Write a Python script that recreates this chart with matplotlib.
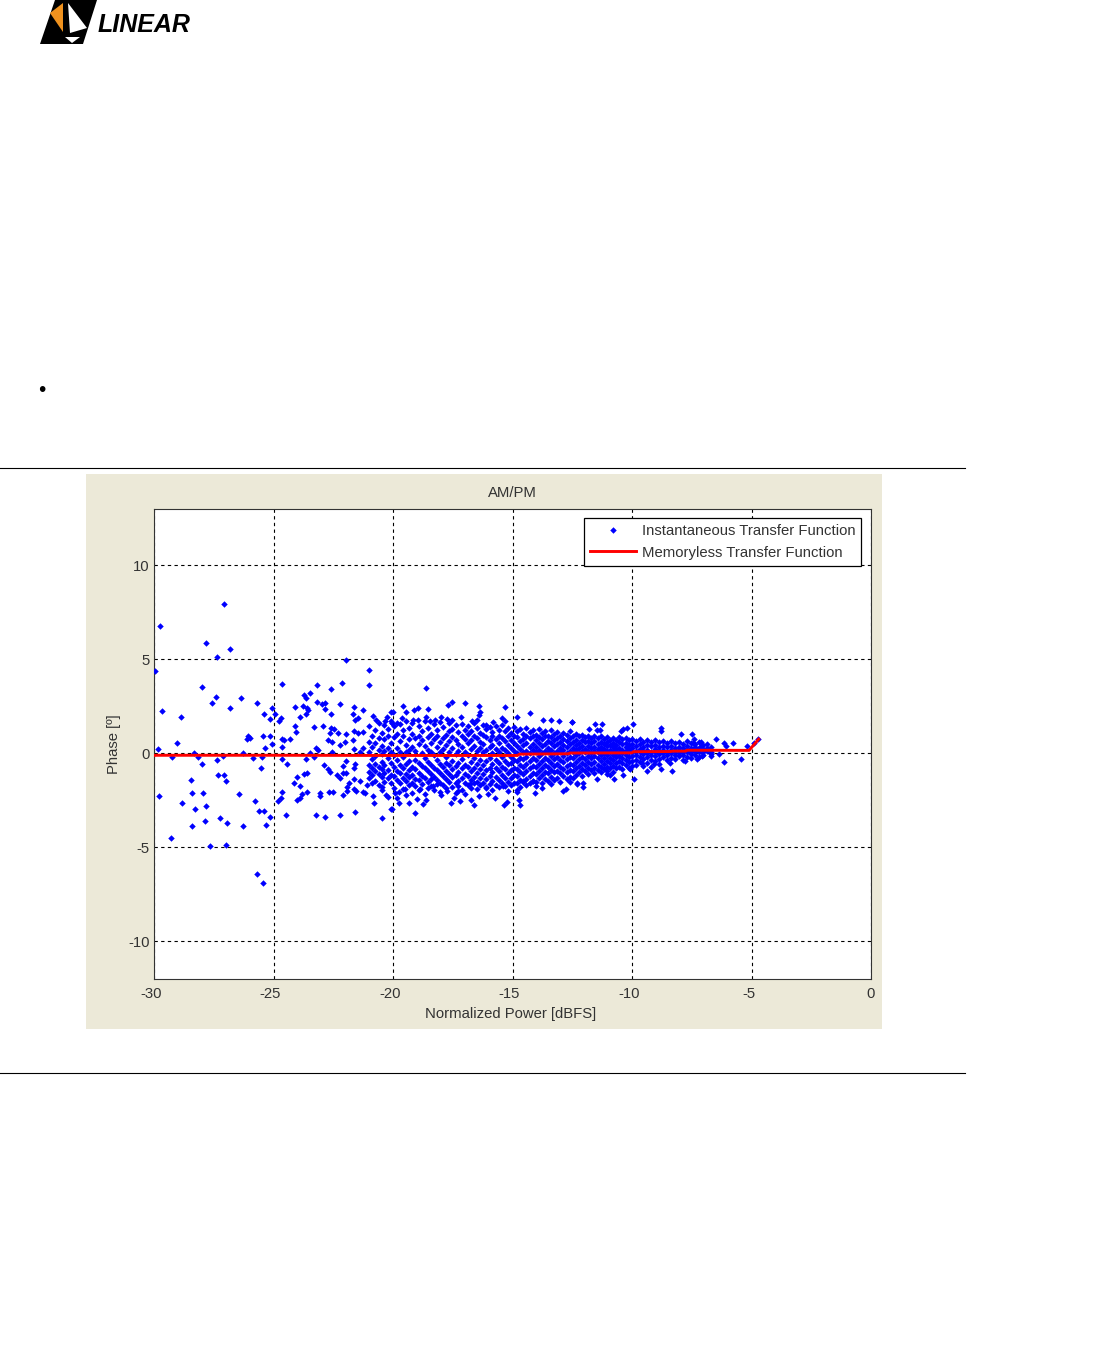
import matplotlib
matplotlib.use('Agg')
import matplotlib.pyplot as plt
from matplotlib.patches import Polygon, Rectangle
from matplotlib.transforms import ScaledTranslation

# Sparse points, low power end
power_low = [-27.09, -29.73, -27.81, -26.83, -27.36, -29.94, -28.0, -27.42, -27.57, -26.81, -26.36, -25.69,
             -29.68, -28.87, -29.05, -29.83, -28.33, -29.26, -28.15, -28.0, -27.36, -27.13, -28.44, -27.32,
             -27.09, -26.99, -28.4, -27.96, -29.79, -28.83, -27.81, -28.3, -27.22, -27.85, -26.93, -28.4,
             -26.26, -29.3, -27.67, -26.99, -25.69, -25.45, -26.46, -25.77, -25.59, -25.4, -25.15, -25.3,
             -25.54, -25.87, -25.5, -26.26, -26.12, -26.07, -25.97, -25.44, -25.15, -25.06, -25.36, -25.4,
             -25.06, -24.92, -25.15, -24.77, -24.67, -24.63, -24.63, -24.63, -24.57, -24.3, -24.63, -24.44,
             -24.63, -24.67, -24.82, -24.49, -24.1, -24.1, -24.04, -23.9, -23.75, -23.71, -23.65, -23.47,
             -23.18, -23.61, -23.56, -23.65, -23.32, -24.0, -24.14, -23.9, -23.8, -23.9, -24.0, -23.61,
             -23.61, -23.71, -23.65, -23.32, -23.47, -23.22, -23.13, -23.22, -22.85, -22.22, -21.59, -20.47,
             -23.18, -22.98, -22.85, -22.85, -22.6, -22.6, -22.12, -22.22, -21.98, -21.02, -21.02, -21.65,
             -21.69, -21.26, -21.45, -21.59, -22.94, -22.6, -22.46, -22.32, -22.65, -21.98, -21.65, -21.45,
             -21.26, -22.73, -22.55, -22.22, -22.02, -21.69, -22.55, -21.65, -21.4, -21.25, -22.89, -22.71,
             -22.65, -21.98, -22.08, -21.59, -21.65, -22.36, -22.22, -22.08, -21.98, -21.65, -21.4, -21.83,
             -21.91, -22.69, -22.5, -23.04, -23.04, -22.08, -21.91, -21.65, -21.55, -21.25, -21.16, -21.1,
             -20.82, -20.78, -20.1, -20.29, -20.47]
phase_low = [7.94, 6.77, 5.86, 5.54, 5.11, 4.39, 3.53, 2.98, 2.66, 2.43, 2.93, 2.68,
             2.24, 1.94, 0.53, 0.21, 0.03, -0.2, -0.2, -0.56, -0.37, -0.14, -1.43, -1.16,
             -1.16, -1.48, -2.08, -2.08, -2.28, -2.65, -2.82, -2.95, -3.44, -3.62, -3.69, -3.86,
             -3.86, -4.48, -4.9, -4.85, -6.44, -6.91, -2.15, -2.52, -3.07, -3.07, -3.39, -3.81,
             -0.76, -0.26, -0.2, 0.03, 0.78, 0.95, 0.83, 0.95, 0.9, 0.48, 0.28, 2.12,
             2.43, 2.12, 1.82, 1.75, 1.87, 3.7, 0.35, 0.78, 0.7, 0.78, -0.32, -0.56,
             -2.03, -2.35, -2.52, -3.26, 2.49, 1.45, 1.15, 1.94, 2.54, 3.09, 2.94, 3.21,
             3.65, 2.42, 2.29, 2.12, 1.39, -1.23, -1.6, -1.73, -2.15, -2.35, -2.47, -2.03,
             -1.02, -1.11, -0.32, -0.2, 0.03, 0.28, 0.18, -3.26, -3.39, -3.26, -3.14, -3.44,
             2.73, 2.64, 2.68, 2.36, 2.12, 3.42, 3.77, 2.61, 4.99, 4.44, 3.65, 2.49,
             2.12, 2.31, 1.87, 1.76, 1.45, 1.36, 1.3, 1.09, 1.08, 1.02, 1.2, 1.08,
             1.13, 0.7, 0.58, 0.46, 0.58, 0.7, 0.09, 0.21, 0.09, 0.28, -0.63, -0.81,
             -0.99, -0.4, -0.67, -0.58, -0.76, -1.16, -1.29, -1.06, -1.02, -1.38, -1.46, -1.6,
             -1.78, -2.03, -2.03, -2.08, -2.28, -2.2, -1.98, -1.9, -1.98, -2.03, -2.1, -1.68,
             -2.26, -2.65, -2.96, -2.2, -1.78]

# Upper edge of the cloud
power_top = [-18.6, -19.57, -19.99, -19.47, -19.13, -18.94, -18.55, -17.69, -17.52, -17.0, -16.42, -16.34,
             -16.39, -15.32, -14.83, -14.26, -13.74, -13.38, -13.05, -12.52, -15.46, -15.32, -15.81, -17.17,
             -16.71, -16.5, -16.09, -18.01, -17.73, -17.55, -18.46, -18.62, -18.25, -19.15, -18.97, -19.61,
             -20.06, -19.85, -12.49, -11.78, -11.54, -11.24, -11.47, -11.33, -10.46, -10.36, -10.22, -9.95,
             -8.8, -8.8, -7.96, -7.49, -7.4, -7.43, -7.11, -7.12, -6.48, -6.15, -6.06, -5.76,
             -5.17, -4.74, -4.89, -20.82, -20.7, -20.33, -20.26, -20.1, -20.05]
phase_top = [3.47, 2.5, 2.18, 2.18, 2.33, 2.41, 2.38, 2.55, 2.73, 2.68, 2.5, 2.18,
             2.06, 2.45, 1.94, 2.13, 1.76, 1.76, 1.74, 1.66, 1.9, 1.71, 1.66, 1.92,
             1.74, 1.76, 1.53, 1.94, 1.83, 1.8, 1.71, 1.92, 1.8, 1.76, 1.76, 1.9,
             1.62, 1.62, 1.66, 1.32, 1.59, 1.59, 1.27, 1.27, 1.18, 1.3, 1.36, 1.59,
             1.36, 1.18, 1.04, 1.04, 0.74, 0.56, 0.6, 0.39, 0.78, 0.56, 0.39, 0.56,
             0.42, 0.79, 0.56, 1.97, 1.8, 1.72, 1.93, 2.2, 1.6]

# Lower edge of the cloud
power_bot = [-19.08, -18.74, -18.64, -18.99, -19.32, -19.75, -20.06, -19.92, -19.75, -19.5, -18.85, -18.01,
             -17.58, -17.44, -17.2, -16.99, -16.75, -16.62, -16.39, -16.04, -15.74, -15.36, -15.22, -14.69,
             -14.73, -14.8, -14.06, -13.78, -13.38, -12.88, -12.78, -12.32, -17.76, -18.32, -17.27, -16.78,
             -16.09, -15.39, -14.55, -14.13, -6.15, -5.46, -6.68, -6.38, -8.31, -8.8, -9.9, -10.39,
             -10.74, -11.06, -10.92, -11.45, -12.03, -12.03, -12.31, -12.59, -9.38, -7.78, -7.29, -7.08,
             -9.1, -9.59, -10.08, -8.41]
phase_bot = [-3.18, -2.7, -2.47, -2.4, -2.65, -2.65, -2.96, -2.12, -2.05, -1.91, -1.91, -2.22,
             -2.65, -2.35, -2.52, -2.17, -2.47, -2.75, -2.26, -2.17, -2.35, -2.75, -2.58, -2.75,
             -2.47, -2.03, -2.08, -1.82, -1.61, -1.99, -1.91, -1.61, -2.0, -1.73, -2.0, -1.64,
             -1.82, -1.73, -1.47, -1.47, -0.44, -0.32, -0.14, -0.02, -0.94, -0.85, -1.38, -1.17,
             -1.34, -1.11, -1.17, -1.38, -1.78, -1.55, -1.6, -1.5, -0.94, -0.41, -0.32, -0.14,
             -0.58, -0.5, -0.85, -0.5]

# Dense body of the cloud, estimated column by column
power_body = [-21.0, -20.87, -20.75, -20.6, -20.48, -20.36, -20.22, -20.1, -19.97, -19.84, -19.7, -19.58,
              -19.44, -19.32, -19.2, -19.06, -18.93, -18.8, -18.68, -18.54, -18.41, -18.3, -18.16, -18.03,
              -17.9, -17.78, -17.64, -17.52, -17.38, -17.26, -17.13, -17.0, -16.87, -16.74, -16.62, -16.48,
              -16.35, -16.23, -16.1, -15.96, -15.84, -15.7, -15.58, -15.44, -15.31, -15.18,
              -15.05, -14.92, -14.8, -14.67, -14.54, -14.42, -14.28, -14.15, -14.03, -13.9, -13.77, -13.64,
              -13.51, -13.38, -13.25, -13.12, -13.0, -12.87, -12.74, -12.61, -12.48, -12.35, -12.22, -12.09,
              -11.96, -11.83, -11.7, -11.57, -11.44, -11.31, -11.18, -11.05, -10.92, -10.79, -10.66, -10.53,
              -10.4, -10.27, -10.14, -10.01,
              -9.85, -9.68, -9.52, -9.36, -9.2, -9.03, -8.87, -8.7, -8.54, -8.37, -8.2, -8.04,
              -7.87, -7.7, -7.54, -7.37, -7.2, -7.03, -6.85, -6.68]
phase_body = [
    [1.45, 0.6, 0.1, -0.6, -1.0, -1.3],
    [0.9, 0.35, -0.3, -0.8, -1.15, -1.6],
    [1.25, 0.55, -0.15, -0.55, -0.95, -1.45],
    [1.6, 0.8, 0.2, -0.7, -1.1, -1.7],
    [1.1, 0.4, -0.05, -0.45, -0.85, -1.25, -1.95],
    [1.5, 0.75, 0.15, -0.6, -1.05, -1.5],
    [1.3, 0.95, 0.3, -0.25, -0.9, -1.3, -2.3],
    [1.7, 0.55, 0.05, -0.5, -1.15, -1.6],
    [1.45, 0.85, -0.1, -0.7, -1.2, -1.85],
    [1.05, 0.3, -0.35, -0.95, -1.4, -2.35],
    [1.55, 0.65, 0.1, -0.6, -1.05, -1.6],
    [1.25, 0.9, -0.2, -0.8, -1.3, -1.9],
    [1.75, 0.45, 0.05, -0.55, -1.1, -1.45, -2.2],
    [1.35, 0.75, 0.2, -0.4, -0.9, -1.25, -1.7],
    [1.6, 1.05, 0.35, -0.7, -1.15, -1.55, -2.1],
    [0.8, 0.15, -0.35, -0.85, -1.35, -1.75],
    [1.45, 0.95, 0.5, -0.5, -1.05, -1.4, -1.95],
    [1.2, 0.7, 0.0, -0.65, -1.2, -1.65],
    [1.7, 0.4, -0.25, -0.8, -1.3, -2.15],
    [1.35, 0.85, 0.2, -0.45, -0.95, -1.5, -1.85],
    [1.05, 0.55, 0.1, -0.6, -1.1, -1.35, -1.75],
    [1.55, 0.75, -0.1, -0.75, -1.25, -1.95],
    [1.25, 0.95, 0.35, -0.35, -0.9, -1.4, -1.65],
    [1.65, 0.6, 0.05, -0.55, -1.05, -1.55, -2.05],
    [1.4, 0.8, 0.25, -0.7, -1.2, -1.7],
    [1.0, 0.45, -0.2, -0.5, -0.95, -1.35, -1.85],
    [1.6, 1.2, 0.65, 0.1, -0.6, -1.1, -1.5],
    [1.3, 0.85, 0.3, -0.4, -0.85, -1.25, -1.8],
    [1.5, 0.7, -0.05, -0.65, -1.15, -1.6, -2.1],
    [1.15, 0.5, 0.15, -0.5, -1.0, -1.45, -1.75],
    [1.55, 0.9, 0.35, -0.3, -0.8, -1.3, -1.95],
    [1.25, 0.75, 0.05, -0.6, -1.1, -1.55],
    [1.45, 1.05, 0.55, -0.1, -0.7, -1.2, -1.7],
    [1.2, 0.7, 0.25, -0.45, -0.95, -1.4, -1.85],
    [1.6, 0.95, 0.4, -0.25, -0.75, -1.25, -1.6],
    [1.35, 0.8, 0.15, -0.55, -1.05, -1.5, -1.9],
    [1.1, 0.6, 0.3, -0.35, -0.85, -1.3, -1.7],
    [1.5, 1.0, 0.5, 0.05, -0.6, -1.1, -1.55],
    [1.3, 0.85, 0.2, -0.4, -0.9, -1.35, -1.8],
    [1.4, 0.7, 0.35, -0.25, -0.75, -1.2, -1.65],
    [1.15, 0.9, 0.45, 0.0, -0.55, -1.0, -1.45, -1.95],
    [1.45, 0.75, 0.25, -0.35, -0.8, -1.25, -1.7],
    [1.25, 0.95, 0.55, 0.1, -0.5, -0.95, -1.4, -1.8],
    [1.5, 0.8, 0.3, -0.2, -0.7, -1.15, -1.6],
    [1.2, 0.65, 0.2, -0.4, -0.85, -1.3, -1.75],
    [1.35, 0.9, 0.45, 0.0, -0.55, -1.05, -1.5, -2.0],
    [1.1, 0.7, 0.3, -0.2, -0.5, -0.9, -1.3, -1.7],
    [1.4, 0.95, 0.55, 0.15, -0.35, -0.75, -1.15, -1.55],
    [1.2, 0.85, 0.4, 0.0, -0.4, -0.85, -1.2, -1.6, -1.95],
    [1.3, 0.65, 0.25, -0.25, -0.6, -1.0, -1.4, -1.8],
    [1.05, 0.75, 0.45, 0.1, -0.3, -0.7, -1.1, -1.5],
    [1.35, 0.95, 0.55, 0.15, -0.2, -0.55, -0.95, -1.35, -1.7],
    [1.15, 0.8, 0.35, 0.0, -0.4, -0.8, -1.2, -1.55],
    [1.25, 0.9, 0.5, 0.2, -0.25, -0.65, -1.05, -1.45],
    [1.0, 0.7, 0.35, 0.05, -0.35, -0.7, -1.1, -1.5, -1.75],
    [1.3, 0.85, 0.55, 0.2, -0.15, -0.55, -0.95, -1.3],
    [1.1, 0.75, 0.4, 0.0, -0.4, -0.75, -1.15, -1.55],
    [1.2, 0.9, 0.5, 0.15, -0.25, -0.6, -1.0, -1.35],
    [0.95, 0.65, 0.3, 0.05, -0.35, -0.7, -1.05, -1.45],
    [1.25, 0.85, 0.55, 0.2, -0.15, -0.5, -0.9, -1.25],
    [1.05, 0.7, 0.4, 0.0, -0.3, -0.65, -1.0, -1.4],
    [1.15, 0.8, 0.5, 0.15, -0.2, -0.55, -0.95, -1.3],
    [0.9, 0.6, 0.3, 0.05, -0.35, -0.7, -1.05, -1.5],
    [1.1, 0.75, 0.45, 0.2, -0.15, -0.45, -0.85, -1.2],
    [1.0, 0.65, 0.35, 0.0, -0.3, -0.65, -1.0, -1.35],
    [1.2, 0.8, 0.5, 0.15, -0.2, -0.55, -0.9, -1.25],
    [0.95, 0.6, 0.3, 0.05, -0.25, -0.6, -0.95, -1.3],
    [1.05, 0.7, 0.45, 0.2, -0.1, -0.45, -0.8, -1.15],
    [0.9, 0.55, 0.3, 0.0, -0.3, -0.65, -1.0],
    [1.0, 0.7, 0.4, 0.15, -0.2, -0.5, -0.85, -1.2],
    [0.85, 0.6, 0.25, 0.05, -0.3, -0.6, -0.95],
    [0.95, 0.65, 0.4, 0.15, -0.15, -0.45, -0.8, -1.1],
    [0.8, 0.55, 0.3, 0.0, -0.25, -0.55, -0.9],
    [0.9, 0.65, 0.35, 0.15, -0.15, -0.45, -0.75, -1.05],
    [0.8, 0.5, 0.25, 0.05, -0.25, -0.6, -0.9],
    [0.95, 0.6, 0.35, 0.15, -0.1, -0.4, -0.7, -1.0],
    [0.75, 0.5, 0.25, 0.0, -0.25, -0.55, -0.85],
    [0.85, 0.6, 0.4, 0.15, -0.1, -0.4, -0.7, -0.95],
    [0.7, 0.45, 0.2, 0.05, -0.25, -0.5, -0.8],
    [0.8, 0.55, 0.35, 0.15, -0.1, -0.35, -0.65, -1.0],
    [0.7, 0.45, 0.25, 0.0, -0.2, -0.5, -0.8],
    [0.85, 0.6, 0.3, 0.1, -0.15, -0.4, -0.7],
    [0.75, 0.5, 0.2, 0.0, -0.25, -0.5, -0.85],
    [0.8, 0.55, 0.35, 0.15, -0.1, -0.35, -0.6],
    [0.7, 0.45, 0.25, 0.05, -0.2, -0.45, -0.75],
    [0.75, 0.5, 0.3, 0.1, -0.15, -0.4, -0.65],
    [0.65, 0.4, 0.15, -0.1, -0.35, -0.6],
    [0.75, 0.5, 0.25, 0.05, -0.2, -0.45],
    [0.6, 0.35, 0.15, -0.05, -0.3, -0.65],
    [0.7, 0.45, 0.2, 0.0, -0.2, -0.5],
    [0.6, 0.4, 0.1, -0.1, -0.35, -0.7],
    [0.7, 0.45, 0.25, 0.05, -0.15, -0.4],
    [0.6, 0.35, 0.15, -0.05, -0.3, -0.55],
    [0.65, 0.4, 0.2, 0.0, -0.2],
    [0.55, 0.35, 0.1, -0.1, -0.35],
    [0.65, 0.4, 0.2, 0.0, -0.25],
    [0.55, 0.3, 0.15, -0.1, -0.3],
    [0.6, 0.35, 0.2, 0.0, -0.15],
    [0.5, 0.3, 0.1, -0.1, -0.35],
    [0.65, 0.4, 0.2, 0.05, -0.2],
    [0.55, 0.3, 0.1, -0.05, -0.25],
    [0.5, 0.35, 0.15, -0.1],
    [0.6, 0.3, 0.05, -0.2],
    [0.45, 0.25, 0.1, -0.1],
    [0.5, 0.3, 0.15],
    [0.35, 0.1, -0.05],
]

# Memoryless curve
power_line = [-30, -29.9, -25.1, -25, -20.1, -20, -14.8, -14.7, -12.65, -12.6, -10, -9.95, -8.4, -8.3, -7.75, -7.7, -5.1, -4.7]
phase_line = [-0.11, -0.1, -0.1, -0.1, -0.11, -0.11, -0.11, -0.04, -0.02, 0.02, 0.03, 0.09, 0.1, 0.12, 0.12, 0.17, 0.16, 0.76]

xticks = [-30, -25, -20, -15, -10, -5, 0]
yticks = [-10, -5, 0, 5, 10]

power_all = power_low + power_top + power_bot
phase_all = phase_low + phase_top + phase_bot
for p, col in zip(power_body, phase_body):
    power_all += [p] * len(col)
    phase_all += col

W, H = 1117, 1352
plt.rcParams['font.family'] = ['Liberation Sans', 'DejaVu Sans']
plt.rcParams['axes.unicode_minus'] = False
fig = plt.figure(figsize=(W / 100, H / 100), dpi=100, facecolor='white')


def fx(px):
    return px / W


def fy(py):
    return 1 - py / H


def page_poly(pts, color):
    fig.add_artist(Polygon([(fx(a), fy(b)) for a, b in pts], closed=True, transform=fig.transFigure,
                           facecolor=color, edgecolor='none'))


# page furniture: logo, bullet, rules, grey panel
page_poly([(40, 44), (55, 0), (97, 0), (83, 44)], 'black')
page_poly([(50, 13), (63, 3), (63, 32)], '#F0921E')
page_poly([(68, 3), (87, 28), (70, 33)], 'white')
page_poly([(65, 37), (80, 37), (72, 43)], 'white')
fig.text(fx(98), fy(32), 'LINEAR', fontsize=18, weight='bold', style='italic',
         color='black', ha='left', va='baseline')
fig.text(fx(42), fy(391), '•', fontsize=15, ha='center', va='center', color='black')
for y_rule in [468, 1073]:
    fig.add_artist(plt.Line2D([0, fx(965)], [fy(y_rule), fy(y_rule)], color='black', lw=0.8))
fig.add_artist(Rectangle((fx(86), fy(1029)), (882 - 86) / W, (1029 - 474) / H, transform=fig.transFigure,
                         facecolor='#ECE9D8', edgecolor='none', zorder=-1))

ax = fig.add_axes([fx(154), fy(979), (871 - 154) / W, (979 - 509) / H], facecolor='white')
ax.plot(power_all, phase_all, linestyle='none', marker='D', markersize=3.3, markeredgewidth=0, color='#0000FF',
        label='Instantaneous Transfer Function', zorder=3)
ax.plot(power_line, phase_line, color='#FF0000', linewidth=2.1, label='Memoryless Transfer Function', zorder=4)

ax.set_xlim(-30, 0)
ax.set_ylim(-12, 13)
ax.set_xticks(xticks)
ax.set_yticks(yticks)
ax.grid(True, color='black', linestyle=(0, (3, 3)), linewidth=0.8)
ax.set_axisbelow(True)
ax.tick_params(direction='in', length=0, labelsize=10.7, labelcolor='#333333')
ax.tick_params(axis='x', pad=5.7)
ax.tick_params(axis='y', pad=3.2)
for s in ax.spines.values():
    s.set_linewidth(0.8)
    s.set_color('#333333')
shift = ScaledTranslation(-3 / 100, 0, fig.dpi_scale_trans)
for lab, tick in zip(ax.get_xticklabels(), xticks):
    if tick < 0:
        lab.set_transform(lab.get_transform() + shift)

ax.set_title('AM/PM', fontsize=10.7, color='#333333', pad=8.5)
ax.set_xlabel('Normalized Power [dBFS]', fontsize=10.7, color='#333333', labelpad=4.5, x=0.497)
ax.set_ylabel('Phase [º]', fontsize=10.7, color='#333333', labelpad=5)

leg = ax.legend(loc='upper left', bbox_to_anchor=((584 - 154) / 717, (979 - 518) / 470), borderaxespad=0,
                fontsize=10.7, handlelength=3.1, handletextpad=0.35, borderpad=0.42, labelspacing=0.5,
                fancybox=False, framealpha=1, edgecolor='black', numpoints=1, labelcolor='#333333')
leg.get_frame().set_linewidth(0.9)
leg.set_zorder(6)

fig.savefig('out.png', dpi=100, facecolor='white')
